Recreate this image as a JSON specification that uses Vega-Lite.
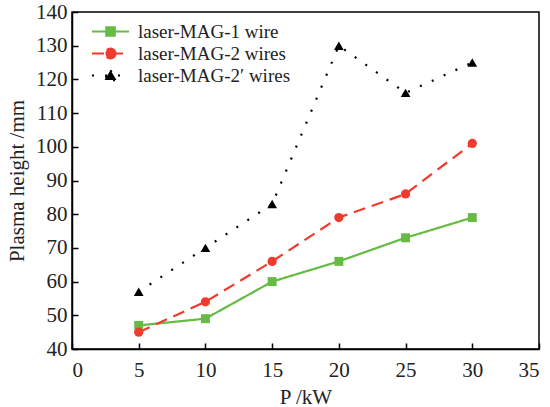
{
  "$schema": "https://vega.github.io/schema/vega-lite/v6.json",
  "width": 550,
  "height": 407,
  "autosize": {"type": "fit", "contains": "padding"},
  "padding": {"left": 6, "right": 10, "top": 1, "bottom": 0},
  "background": "white",
  "config": {
    "font": "Liberation Serif",
    "view": {"stroke": "black", "strokeWidth": 1.5},
    "axis": {
      "grid": false,
      "domainColor": "black",
      "domainWidth": 1.5,
      "tickColor": "black",
      "tickWidth": 1.5,
      "tickSize": -6,
      "labelPadding": 11,
      "labelFont": "Liberation Serif",
      "labelFontSize": 21,
      "labelColor": "#222",
      "titleFont": "Liberation Serif",
      "titleFontSize": 21,
      "titleFontWeight": "normal",
      "titleColor": "#222"
    },
    "legend": {
      "labelFont": "Liberation Serif",
      "labelFontSize": 19,
      "labelColor": "#222"
    }
  },
  "data": {
    "values": [
      {"series": "laser-MAG-1 wire", "P": 5, "h": 47},
      {"series": "laser-MAG-1 wire", "P": 10, "h": 49},
      {"series": "laser-MAG-1 wire", "P": 15, "h": 60},
      {"series": "laser-MAG-1 wire", "P": 20, "h": 66},
      {"series": "laser-MAG-1 wire", "P": 25, "h": 73},
      {"series": "laser-MAG-1 wire", "P": 30, "h": 79},
      {"series": "laser-MAG-2 wires", "P": 5, "h": 45},
      {"series": "laser-MAG-2 wires", "P": 10, "h": 54},
      {"series": "laser-MAG-2 wires", "P": 15, "h": 66},
      {"series": "laser-MAG-2 wires", "P": 20, "h": 79},
      {"series": "laser-MAG-2 wires", "P": 25, "h": 86},
      {"series": "laser-MAG-2 wires", "P": 30, "h": 101},
      {"series": "laser-MAG-2′ wires", "P": 5, "h": 57},
      {"series": "laser-MAG-2′ wires", "P": 10, "h": 70},
      {"series": "laser-MAG-2′ wires", "P": 15, "h": 83},
      {"series": "laser-MAG-2′ wires", "P": 20, "h": 130},
      {"series": "laser-MAG-2′ wires", "P": 25, "h": 116},
      {"series": "laser-MAG-2′ wires", "P": 30, "h": 125}
    ]
  },
  "encoding": {
    "x": {
      "field": "P", "type": "quantitative",
      "scale": {"domain": [0, 35], "nice": false},
      "axis": {"values": [0, 5, 10, 15, 20, 25, 30, 35], "title": "P /kW", "titlePadding": 6, "labelPadding": 16}
    },
    "y": {
      "field": "h", "type": "quantitative",
      "scale": {"domain": [40, 140], "nice": false, "zero": false},
      "axis": {"values": [40, 50, 60, 70, 80, 90, 100, 110, 120, 130, 140], "title": "Plasma height /mm", "titlePadding": 8}
    }
  },
  "layer": [
    {
      "mark": {"type": "line", "strokeWidth": 2.2},
      "encoding": {
        "color": {
          "field": "series", "type": "nominal",
          "scale": {
            "domain": ["laser-MAG-1 wire", "laser-MAG-2 wires", "laser-MAG-2′ wires"],
            "range": ["#66bb44", "#f03a2e", "#000000"]
          },
          "legend": {
            "title": null,
            "orient": "none",
            "legendX": 27,
            "legendY": 8,
            "symbolSize": 400,
            "symbolStrokeWidth": 2.2,
            "labelOffset": 16,
            "rowPadding": -1,
            "encode": {
              "symbols": {
                "update": {
                  "shape": {"signal": "datum.value === 'laser-MAG-1 wire' ? 'M-1.85,0H1.85M-0.42,-0.42H0.42V0.42H-0.42Z' : datum.value === 'laser-MAG-2 wires' ? 'M-1.85,0H1.85M0.5,0A0.5,0.5,0,1,1,-0.5,0A0.5,0.5,0,1,1,0.5,0Z' : 'M-1.85,0H1.85M0,-0.52L0.6,0.46H-0.6Z'"},
                  "fill": {"signal": "scale('color', datum.value)"},
                  "fillOpacity": {"value": 1}
                }
              }
            }
          }
        },
        "strokeDash": {
          "field": "series", "type": "nominal",
          "scale": {
            "domain": ["laser-MAG-1 wire", "laser-MAG-2 wires", "laser-MAG-2′ wires"],
            "range": [[1, 0], [12, 7], [2, 11]]
          },
          "legend": null
        }
      }
    },
    {
      "transform": [{"filter": "datum.series === 'laser-MAG-1 wire'"}],
      "mark": {"type": "point", "filled": true, "opacity": 1, "shape": "square", "size": 80},
      "encoding": {"color": {"field": "series", "type": "nominal", "legend": null}}
    },
    {
      "transform": [{"filter": "datum.series === 'laser-MAG-2 wires'"}],
      "mark": {"type": "point", "filled": true, "opacity": 1, "shape": "circle", "size": 85},
      "encoding": {"color": {"field": "series", "type": "nominal", "legend": null}}
    },
    {
      "transform": [{"filter": "datum.series === 'laser-MAG-2′ wires'"}],
      "mark": {"type": "point", "filled": true, "opacity": 1, "shape": "triangle-up", "size": 95},
      "encoding": {"color": {"field": "series", "type": "nominal", "legend": null}}
    }
  ]
}
